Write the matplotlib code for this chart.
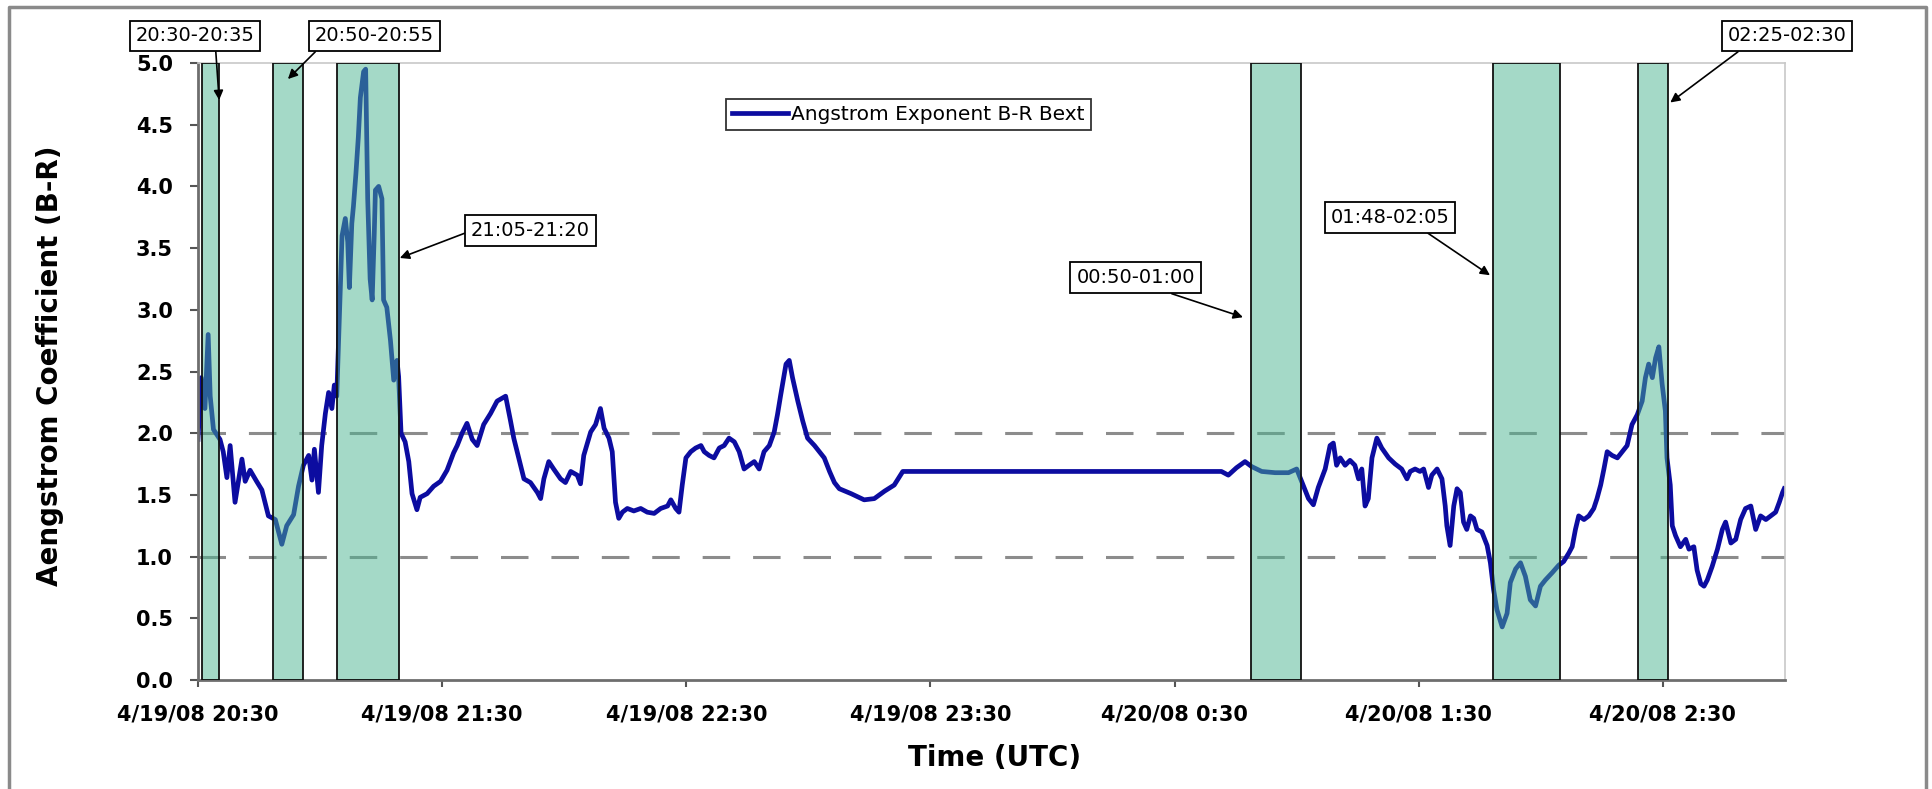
import matplotlib
matplotlib.use('Agg')
from matplotlib import pyplot as plt
from matplotlib.lines import Line2D


# Angstrom exponent series, time in minutes after 4/19/08 20:30 UTC
minutes = [
    0.0, 0.8, 1.7, 2.5, 3.0, 3.8, 5.4, 6.2, 7.1, 7.9, 9.1, 10.8, 11.6, 12.8,
    14.4, 15.7, 17.3, 19.0, 20.6, 21.8, 23.5, 24.7, 25.9, 27.2, 28.0, 28.6,
    29.6, 30.4, 31.3, 32.1, 32.9, 33.5, 34.1, 35.0, 35.4, 36.2, 36.8, 37.2,
    37.8, 38.2, 38.8, 39.4, 39.9, 40.7, 41.2, 41.7, 42.3, 42.8, 43.3, 43.6,
    44.4, 45.2, 45.6, 46.4, 47.3, 48.1, 48.9, 49.3, 49.9, 50.9, 51.8, 52.6,
    53.8, 54.6, 56.3, 57.9, 59.6, 61.2, 62.8, 63.7, 64.9, 66.1, 67.4, 68.6,
    70.2, 71.9, 73.5, 75.6, 76.8, 77.6, 78.8, 80.1, 81.7, 83.4, 84.2, 85.0,
    86.2, 87.4, 89.1, 90.3, 91.6, 93.2, 94.0, 94.8, 96.5, 97.7, 98.9, 99.8,
    101.0, 101.8, 102.6, 103.4, 104.3, 105.5, 107.1, 108.8, 110.4, 112.1,
    113.7, 115.4, 116.2, 117.4, 118.2, 119.0, 119.9, 121.1, 122.3, 123.6,
    124.4, 125.6, 126.8, 128.1, 129.3, 130.5, 131.8, 133.0, 134.2, 135.4,
    136.7, 137.9, 139.1, 140.4, 141.6, 142.4, 143.2, 144.5, 145.3, 146.1,
    147.4, 148.6, 149.8, 151.5, 152.7, 153.9, 155.2, 156.4, 157.6, 160.5,
    163.7, 166.2, 168.7, 171.1, 173.2, 251.5, 253.2, 255.2, 257.3, 258.9,
    261.4, 264.7, 268.0, 270.0, 271.2, 272.9, 274.1, 275.3, 277.0, 278.2,
    279.0, 279.8, 280.7, 281.9, 283.1, 284.3, 285.2, 286.0, 286.8, 287.6,
    288.5, 289.7, 290.9, 292.6, 294.2, 295.8, 297.1, 297.9, 299.1, 300.3,
    301.2, 302.4, 303.2, 304.5, 305.7, 306.5, 306.9, 307.7, 308.6, 309.4,
    310.2, 311.0, 311.8, 312.7, 313.5, 314.3, 315.5, 316.8, 317.6, 318.4,
    319.2, 320.5, 321.7, 322.5, 323.8, 325.0, 326.2, 327.4, 328.7, 329.9,
    331.1, 332.8, 334.4, 335.6, 336.9, 337.7, 338.5, 339.3, 340.6, 341.8,
    343.0, 343.8, 344.7, 345.5, 346.3, 347.5, 348.8, 350.0, 351.2, 352.4,
    353.7, 354.9, 355.7, 356.5, 357.4, 358.2, 359.0, 359.8, 360.6, 361.0,
    361.8, 362.3, 363.1, 364.3, 365.6, 366.4, 367.6, 368.4, 369.3, 370.1,
    370.9, 372.1, 373.4, 374.6, 375.4, 376.7, 377.9, 379.1, 380.3, 381.6,
    382.8, 384.0, 385.3, 386.5, 387.7, 388.6, 389.4, 389.8]
angstrom = [
    1.95, 2.45, 2.20, 2.80, 2.30, 2.03, 1.95, 1.85, 1.64, 1.90, 1.44, 1.79,
    1.61, 1.70, 1.61, 1.54, 1.33, 1.30, 1.10, 1.25, 1.34, 1.57, 1.74, 1.82,
    1.62, 1.87, 1.52, 1.90, 2.16, 2.33, 2.20, 2.39, 2.30, 3.20, 3.60, 3.74,
    3.55, 3.18, 3.70, 3.84, 4.10, 4.40, 4.72, 4.93, 4.95, 3.90, 3.25, 3.08,
    3.60, 3.97, 4.00, 3.90, 3.08, 3.02, 2.75, 2.43, 2.59, 2.46, 2.00, 1.93,
    1.77, 1.51, 1.38, 1.48, 1.51, 1.57, 1.61, 1.70, 1.84, 1.90, 2.00, 2.08,
    1.95, 1.90, 2.07, 2.16, 2.26, 2.30, 2.10, 1.96, 1.80, 1.63, 1.60, 1.52,
    1.47, 1.63, 1.77, 1.71, 1.63, 1.60, 1.69, 1.66, 1.59, 1.82, 2.01, 2.07,
    2.20, 2.04, 1.96, 1.85, 1.44, 1.31, 1.36, 1.39, 1.37, 1.39, 1.36, 1.35,
    1.39, 1.41, 1.46, 1.39, 1.36, 1.58, 1.80, 1.85, 1.88, 1.90, 1.85, 1.82,
    1.80, 1.88, 1.90, 1.96, 1.93, 1.85, 1.71, 1.74, 1.77, 1.71, 1.85, 1.90,
    2.01, 2.15, 2.31, 2.56, 2.59, 2.45, 2.26, 2.10, 1.96, 1.90, 1.85, 1.80,
    1.69, 1.60, 1.55, 1.51, 1.46, 1.47, 1.53, 1.58, 1.69, 1.69, 1.66, 1.72,
    1.77, 1.73, 1.69, 1.68, 1.68, 1.71, 1.61, 1.47, 1.42, 1.56, 1.71, 1.90,
    1.92, 1.74, 1.80, 1.74, 1.78, 1.74, 1.63, 1.71, 1.41, 1.47, 1.80, 1.96,
    1.88, 1.80, 1.75, 1.71, 1.63, 1.69, 1.71, 1.69, 1.71, 1.56, 1.66, 1.71,
    1.63, 1.41, 1.25, 1.09, 1.41, 1.55, 1.52, 1.28, 1.22, 1.33, 1.31, 1.22,
    1.20, 1.09, 0.95, 0.73, 0.57, 0.43, 0.54, 0.79, 0.90, 0.95, 0.84, 0.65,
    0.60, 0.76, 0.81, 0.87, 0.93, 0.96, 1.03, 1.08, 1.22, 1.33, 1.30, 1.33,
    1.39, 1.47, 1.58, 1.71, 1.85, 1.82, 1.80, 1.85, 1.90, 2.07, 2.15, 2.26,
    2.45, 2.56, 2.45, 2.61, 2.70, 2.40, 2.18, 1.80, 1.58, 1.25, 1.17, 1.08,
    1.14, 1.06, 1.08, 0.89, 0.78, 0.76, 0.81, 0.92, 1.06, 1.22, 1.28, 1.11,
    1.14, 1.30, 1.39, 1.41, 1.22, 1.33, 1.30, 1.33, 1.36, 1.44, 1.52, 1.55]

# Highlighted periods (minutes after 20:30, as drawn)
shade_start = [0.9, 18.4, 34.1, 258.7, 318.2, 353.8]
shade_end = [5.2, 25.8, 49.5, 271.1, 334.7, 361.3]
shade_labels = ['20:30-20:35', '20:50-20:55', '21:05-21:20',
                '00:50-01:00', '01:48-02:05', '02:25-02:30']

ref_levels = [1.0, 2.0]
tick_minutes = [0, 60, 120, 180, 240, 300, 360]
tick_labels = ['4/19/08 20:30', '4/19/08 21:30', '4/19/08 22:30',
               '4/19/08 23:30', '4/20/08 0:30', '4/20/08 1:30',
               '4/20/08 2:30']

plt.rcParams['font.family'] = 'DejaVu Sans'

W, H = 1933, 789
fig = plt.figure(figsize=(W / 100, H / 100), dpi=100)
ax = fig.add_axes([198 / W, 1 - 680 / H, (1785 - 198) / W, (680 - 63) / H])

# reference levels
for lvl in ref_levels:
    ax.axhline(lvl, color='#8c8c8c', lw=2.2, dashes=(9, 7.5), zorder=1)

# data line
ax.plot(minutes, angstrom, color='#0c0ca0', lw=3.4, zorder=2,
        label='Angstrom Exponent B-R Bext', solid_joinstyle='round')

# shaded periods on top of the line
for a, b in zip(shade_start, shade_end):
    ax.axvspan(a, b, facecolor=(75 / 255, 181 / 255, 145 / 255, 0.5),
               edgecolor='#111111', lw=1.3, zorder=3)

# callout boxes: (text x, text y, arrow x, arrow y, relpos)
callouts = [
    (-0.7, 5.22, 5.2, 4.70, (0.67, 0.0)),
    (43.3, 5.22, 22.1, 4.87, (0.06, 0.0)),
    (81.7, 3.64, 49.6, 3.42, (0.0, 0.5)),
    (230.4, 3.26, 256.8, 2.94, (0.64, 0.0)),
    (292.9, 3.75, 317.5, 3.28, (0.74, 0.0)),
    (390.5, 5.22, 361.8, 4.68, (0.16, 0.0)),
]
for lab, (tx, ty, px, py, rp) in zip(shade_labels, callouts):
    ax.annotate(lab, xy=(px, py), xytext=(tx, ty), ha='center', va='center',
                fontsize=14, annotation_clip=False, zorder=5,
                bbox=dict(boxstyle='square,pad=0.3', fc='white', ec='black',
                          lw=1.3),
                arrowprops=dict(arrowstyle='-|>', color='black', lw=1.2,
                                mutation_scale=14, relpos=rp,
                                shrinkA=0, shrinkB=0))

ax.set_xlim(0, 390)
ax.set_ylim(0, 5)
ax.set_xticks(tick_minutes)
ax.set_xticklabels(tick_labels, fontsize=15, fontweight='bold')
ax.set_yticks([i * 0.5 for i in range(11)])
ax.set_yticklabels([f'{i * 0.5:.1f}' for i in range(11)], fontsize=15,
                   fontweight='bold')
ax.tick_params(axis='x', direction='out', length=5, width=1.5,
               color='#555555', pad=12.5)
ax.tick_params(axis='y', direction='out', length=6, width=1.5,
               color='#555555', pad=12)

for side in ['left', 'bottom']:
    ax.spines[side].set_color('#6e6e6e')
    ax.spines[side].set_linewidth(2)
for side in ['top', 'right']:
    ax.spines[side].set_color('#c8c8c8')
    ax.spines[side].set_linewidth(1.2)

leg = ax.legend(loc='upper left', bbox_to_anchor=((726 - 198) / 1587,
                                                   (680 - 99) / 617),
                fontsize=14.5, frameon=True, fancybox=False,
                handlelength=2.8, handletextpad=0.15, borderpad=0.3,
                borderaxespad=0)
leg.get_frame().set_edgecolor('black')
leg.get_frame().set_linewidth(1.3)

fig.text(995 / W, 1 - 758 / H, 'Time (UTC)', ha='center', va='center',
         fontsize=20, fontweight='bold')
fig.text(50 / W, 1 - 366 / H, 'Aengstrom Coefficient (B-R)', ha='center',
         va='center', rotation=90, fontsize=20, fontweight='bold')

# outer chart border
fig.add_artist(Line2D([9 / W, 9 / W, 1926 / W, 1926 / W],
                      [-0.01, 1 - 7 / H, 1 - 7 / H, -0.01],
                      transform=fig.transFigure, color='#8a8a8a', lw=2.5))

fig.savefig('out.png', dpi=100, facecolor='white')
